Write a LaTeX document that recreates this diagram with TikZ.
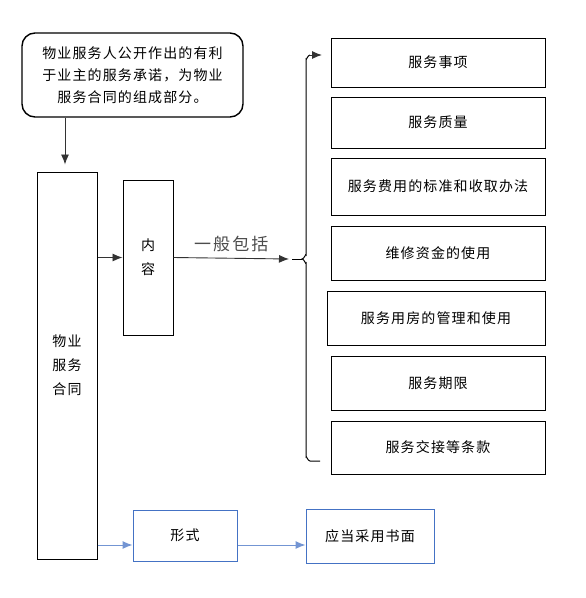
\documentclass[tikz,border=0pt]{standalone}
\usepackage{fontspec}
\setmainfont{Noto Sans CJK SC}[LetterSpace=8]
\newfontfamily\widefont[LetterSpace=12]{Noto Sans CJK SC}
\usepackage{tikz}
\usetikzlibrary{arrows.meta}
\definecolor{boxblue}{RGB}{68,114,196}
\tikzset{
  box/.style={draw, line width=1pt, minimum width=#1, inner sep=0pt, align=center, font=\fontsize{14}{24}\selectfont},
  bluebox/.style={box=#1, draw=boxblue},
  arr/.style={-{Latex[length=10pt,width=8pt]}, line width=0.9pt, draw=black!80},
  barr/.style={-{Latex[length=10pt,width=8pt]}, line width=1pt, draw=boxblue!75, fill=boxblue}
}
\begin{document}
\begin{tikzpicture}[x=1pt, y=-1pt]
        \useasboundingbox (0, 0) rectangle (586, 598);
        \node[box=221pt, minimum height=84pt, rounded corners=13pt, line width=1.4pt, font=\fontsize{14}{22}\selectfont] (note) at (132.5, 75) {物业服务人公开作出的有利\\于业主的服务承诺，为物业\\服务合同的组成部分。};
        \node[box=60pt, minimum height=387pt] (contract) at (67, 365.5) {物业\\服务\\合同};
        \node[box=50pt, minimum height=155pt] (content) at (148, 257.5) {内\\容};
        % right column
        \node[box=214pt, minimum height=49pt] (item1) at (438, 62.5) {服务事项};
        \node[box=214pt, minimum height=51pt] (item2) at (438, 122.5) {服务质量};
        \node[box=214pt, minimum height=57pt] (item3) at (438, 186.5) {服务费用的标准和收取办法};
        \node[box=214pt, minimum height=54pt] (item4) at (438, 253) {维修资金的使用};
        \node[box=218pt, minimum height=54pt] (item5) at (436, 318) {服务用房的管理和使用};
        \node[box=214pt, minimum height=54pt] (item6) at (438, 383) {服务期限};
        \node[box=214pt, minimum height=53pt] (item7) at (438, 447.5) {服务交接等条款};
        % form
        \node[bluebox=104pt, minimum height=51pt] (form) at (185, 535.5) {形式};
        \node[bluebox=128pt, minimum height=54pt] (written) at (370, 536) {应当采用书面};
        \coordinate (bmid) at (306, 259);
        \coordinate (btop) at (322, 55);
        \coordinate (bbot) at (320, 461);
        \draw[arr] (note.south -| 65, 0) -- ([yshift=7pt]contract.north -| 65, 0);
        \draw[arr] (contract.east |- content) -- (content.west);
        \draw[arr] (content.east) -- ([xshift=-17pt]bmid) node[midway, above=3pt, text=black!70, font=\widefont\fontsize{17}{17}\selectfont] {一般包括};
        \draw[line width=1pt] ([xshift=-14pt]bmid) -- ([xshift=-4pt]bmid);
        \draw[line width=1pt] (bbot) -- (310, 461) to[out=180, in=90] (306, 457) -- (306, 263)
          to[out=-90, in=0] ([xshift=-4pt]bmid) to[out=0, in=90] (306, 255) -- (306, 59) to[out=-90, in=180] (310, 55);
        \draw[arr, line width=1pt] (310, 55) -- (btop);
        \draw[barr] (contract.east |- 0, 545) -- (form.west |- 0, 545);
        \draw[barr] (form.east |- 0, 545) -- (written.west |- 0, 545);
      \end{tikzpicture}
\end{document}
